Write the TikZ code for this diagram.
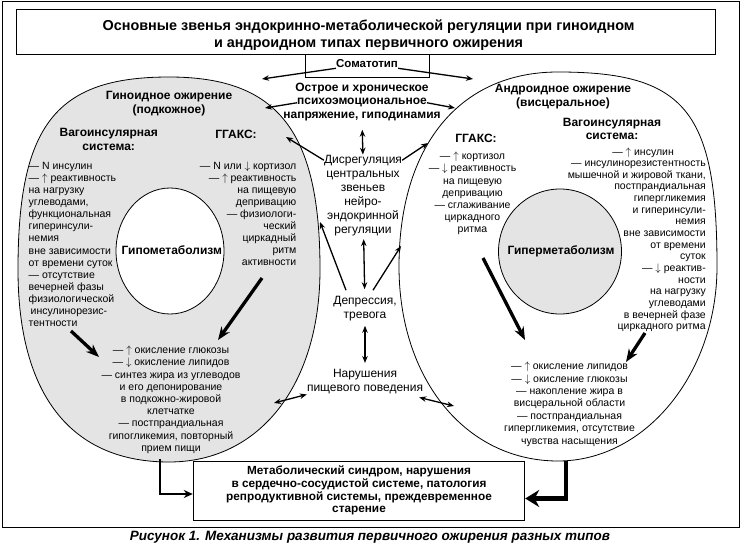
\documentclass[tikz,border=0pt]{standalone}
\usepackage{fontspec}
\setmainfont{Liberation Sans}
\usepackage{tikz}
\usetikzlibrary{arrows.meta,positioning}
\definecolor{ovalgray}{RGB}{228,228,228}

\begin{document}
\begin{tikzpicture}[x=1pt,y=-1pt,
  txt/.style={inner sep=0pt,font=\fontsize{10.5}{12.1}\selectfont},
  hdr/.style={inner sep=0pt,font=\fontsize{12}{13.8}\selectfont\bfseries,align=center},
  mid/.style={inner sep=0pt,font=\fontsize{12}{13.9}\selectfont,align=center},
  arr/.style={-{Stealth[length=7pt,width=5.5pt]},line width=1.3pt},
  darr/.style={{Stealth[length=7pt,width=5.5pt]}-{Stealth[length=7pt,width=5.5pt]},line width=1.3pt},
  fat/.style={-{Stealth[length=13pt,width=10pt]},line width=3.3pt}
]
\useasboundingbox (0,0) rectangle (741,545);
\draw[line width=1pt] (2,2) rectangle (739,527);
\draw[line width=0.9pt] (16,9) rectangle (715,54);
\draw[line width=0.9pt] (305,54) rectangle (429,77);

\draw[line width=0.8pt,fill=ovalgray] (169,77) .. controls (277.7,77) and (320,130.9) .. (320,269.5)
  .. controls (320,385) and (259.6,462) .. (169,462)
  .. controls (70.8,462) and (18,394.6) .. (18,269.5)
  .. controls (18,125.1) and (55.75,77) .. cycle;
\draw[line width=0.8pt,fill=white] (170,251) ellipse [x radius=54pt,y radius=63pt];
\draw[line width=0.8pt] (558,72) .. controls (685.2,72) and (717,110.9) .. (717,266.5)
  .. controls (717,373.5) and (645.5,461) .. (558,461)
  .. controls (465.8,461) and (399,379.3) .. (399,266.5)
  .. controls (399,145.9) and (459.4,72) .. cycle;
\draw[line width=0.8pt,fill=ovalgray] (560,251.5) ellipse [x radius=61.5pt,y radius=62.5pt];

\node[inner sep=0pt,font=\fontsize{14.4}{16.7}\selectfont\bfseries,align=center,anchor=north] (title) at (368.6,19.5)
  {Основные звенья эндокринно-метаболической регуляции при гиноидном\\и андроидном типах первичного ожирения};
\node[inner sep=0pt,font=\fontsize{11.5}{13}\selectfont\bfseries,anchor=base] (somato) at (367,68) {Соматотип};

\node[hdr,anchor=base] (psy) at (362,104.8) {психоэмоциональное};
\node[hdr,above=13.4pt of psy.base,anchor=base] (acute) {Острое и хроническое};
\node[hdr,below=13.3pt of psy.base,anchor=base] (tension) {напряжение, гиподинамия};

\node[mid,anchor=base] (dysreg) at (363,163.1) {Дисрегуляция};
\node[mid,anchor=north] (dysrest) at (363,171.2) {центральных\\звеньев\\нейро-\\эндокринной\\регуляции};
\node[mid,anchor=north] (depr) at (365,296.2) {Депрессия,\\тревога};
\node[mid,anchor=north] (nar) at (365,369.5) {Нарушения\\пищевого поведения};

\node[hdr,anchor=north] (gyntitle) at (169,91.5) {Гиноидное ожирение\\(подкожное)};
\node[hdr,anchor=north] (gynvaghdr) at (108.7,128.5) {Вагоинсулярная\\система:};
\node[hdr,anchor=base] (gynhpahdr) at (236,138.8) {ГГАКС:};
\node[hdr,anchor=north,font=\fontsize{12}{14}\selectfont\bfseries] (andrtitle) at (563,84.5) {Андроидное ожирение\\(висцеральное)};
\node[hdr,anchor=base] (andrhpahdr) at (476,142.6) {ГГАКС:};
\node[hdr,anchor=north,font=\fontsize{12}{13.4}\selectfont\bfseries] (andrvaghdr) at (612,117.8) {Вагоинсулярная\\система:};

\node[txt,align=left,anchor=north west] (gynvag) at (28.5,161.9)
  {— N инсулин\\— $\uparrow$ реактивность\\на нагрузку\\углеводами,\\функциональная\\гиперинсули-\\немия\\вне зависимости\\от времени суток\\— отсутствие\\вечерней фазы\\физиологической\\\hspace*{2pt}инсулинорезис-\\тентности};
\node[txt,align=right,anchor=north east] (gynhpa) at (296.5,161.2)
  {— N или $\downarrow$ кортизол\\— $\uparrow$ реактивность\\на пищевую\\депривацию\\— физиологи-\\ческий\\циркадный\\ритм\\активности};
\node[txt,align=center,anchor=north,font=\fontsize{10.5}{12.2}\selectfont] (andrhpa) at (472.5,151.9)
  {— $\uparrow$ кортизол\\— $\downarrow$ реактивность\\на пищевую\\депривацию\\— сглаживание\\циркадного\\ритма};
\node[txt,align=right,anchor=north east,font=\fontsize{10.5}{11.65}\selectfont] (andrvag) at (706,147.2)
  {— $\uparrow$ инсулин\hspace*{32pt}\\— инсулинорезистентность\hspace*{-4pt}\\мышечной и жировой ткани,\hspace*{-4pt}\\постпрандиальная\\гипергликемия\\и гиперинсули-\\немия\\вне зависимости\\от времени\\суток\\— $\downarrow$ реактив-\\ности\\на нагрузку\\углеводами\\в вечерней фазе\\циркадного ритма};

\node[hdr,anchor=base] (hypo) at (171.8,254.8) {Гипометаболизм};
\node[hdr,anchor=base] (hyper) at (561,254.6) {Гиперметаболизм};

\node[txt,align=center,anchor=north,font=\fontsize{10.5}{12.2}\selectfont] (gynout) at (171,345.9)
  {— $\uparrow$ окисление глюкозы\\— $\downarrow$ окисление липидов\\— синтез жира из углеводов\\и его депонирование\\в подкожно-жировой\\клетчатке\\— постпрандиальная\\гипогликемия, повторный\\прием пищи};
\node[txt,align=center,anchor=north,font=\fontsize{10.5}{12.4}\selectfont] (androut) at (569.5,361.9)
  {— $\uparrow$ окисление липидов\\— $\downarrow$ окисление глюкозы\\— накопление жира в\\висцеральной области\\— постпрандиальная\\гипергликемия, отсутствие\\чувства насыщения};

\node[draw,line width=0.9pt,minimum width=331.5pt,minimum height=59pt,inner sep=0pt,align=center,
  font=\fontsize{11.8}{12.8}\selectfont\bfseries] (metab) at (359,490.5)
  {Метаболический синдром, нарушения\\в сердечно-сосудистой системе, патология\\репродуктивной системы, преждевременное\\старение};

\node[inner sep=0pt,font=\fontsize{13.5}{15}\selectfont\bfseries\itshape,anchor=base] (caption) at (370,540.6)
  {Рисунок 1. Механизмы развития первичного ожирения разных типов};

\coordinate (somaL) at (262,79);
\coordinate (somaR) at (473,79);
\coordinate (stressL) at (265,108);
\coordinate (stressR) at (455,108);
\coordinate (dysL) at (286,137);
\coordinate (dysR) at (428,143);
\coordinate (deprL) at (320,222);
\coordinate (deprR) at (401,246);
\coordinate (narL) at (274,403);
\coordinate (narR) at (454,406);
\coordinate (gynvagA) at (71,331);
\coordinate (gynvagB) at (99,357);
\coordinate (gynhpaA) at (262,278);
\coordinate (gynhpaB) at (218,340);
\coordinate (andrhpaA) at (483,258);
\coordinate (andrhpaB) at (525,340);
\coordinate (andrvagA) at (645,333);
\coordinate (andrvagB) at (626,362);
\coordinate (gynbot) at (160,459);
\coordinate (andrbot) at (566,461);

\draw[arr] (somato.south west) -- (somaL);
\draw[arr] (somato.south east) -- (somaR);
\draw[arr] (psy.west) -- (stressL);
\draw[arr] (psy.east) -- (stressR);
\draw[arr] (dysreg.west) -- (dysL);
\draw[arr] (dysreg.east) -- (dysR);
\draw[darr,shorten <=9pt] (tension) -- (dysreg);
\draw[darr,shorten <=3pt,shorten >=7pt] (dysrest) -- (depr);
\draw[darr,shorten <=4.5pt,shorten >=6.5pt] (depr) -- (nar);
\draw[arr] ([xshift=-19pt,yshift=6pt]depr.north) -- (deprL);
\draw[arr] ([xshift=8pt,yshift=6pt]depr.north) -- (deprR);
\draw[darr] (nar.south west) -- (narL);
\draw[darr] ([xshift=-4pt,yshift=-3pt]nar.south east) -- (narR);

\draw[fat] (gynvagA) -- (gynvagB);
\draw[fat] (gynhpaA) -- (gynhpaB);
\draw[fat] (andrhpaA) -- (andrhpaB);
\draw[fat] (andrvagA) -- (andrvagB);

\draw[line width=2.3pt,-{Stealth[length=9pt,width=8pt]}] (gynbot) |- ([yshift=-3.5pt]metab.west);
\draw[line width=4.3pt,-{Stealth[length=14pt,width=17pt]}] (andrbot) |- ([yshift=-8pt]metab.east);
\end{tikzpicture}
\end{document}
